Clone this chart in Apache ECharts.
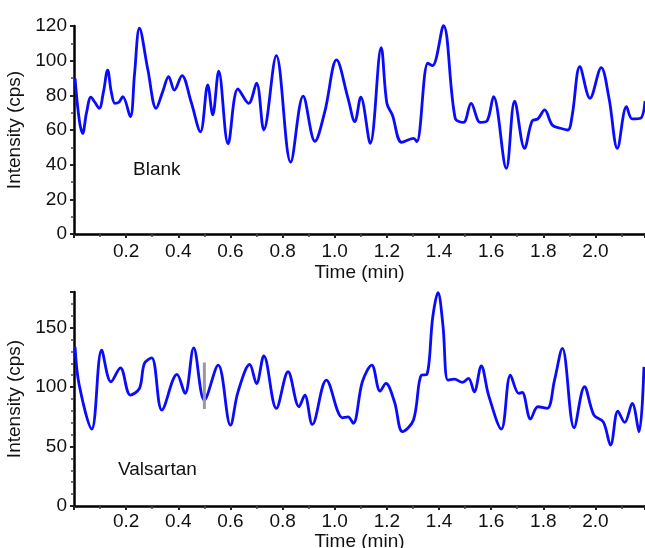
<!DOCTYPE html>
<html>
<head>
<meta charset="utf-8">
<script src="https://cdn.jsdelivr.net/npm/echarts@6/dist/echarts.min.js"></script>
<style>
html,body{margin:0;padding:0;background:#fff;}
#c{width:645px;height:548px;}
</style>
</head>
<body>
<div id="c"></div>
<script>
// Blank chromatogram
const blankTime = [0.004,0.02,0.033,0.048,0.065,0.08,0.097,0.113,0.129,0.143,0.157,0.172,0.187,0.216,0.232,0.251,0.283,0.315,0.34,0.363,0.385,0.414,0.449,0.485,0.513,0.532,0.555,0.591,0.629,0.67,0.70,0.728,0.776,0.831,0.879,0.924,0.962,1.007,1.051,1.077,1.1,1.136,1.178,1.2,1.221,1.257,1.302,1.315,1.357,1.375,1.417,1.462,1.494,1.523,1.558,1.584,1.609,1.658,1.69,1.728,1.757,1.779,1.805,1.834,1.866,1.894,1.911,1.94,1.979,2.022,2.052,2.084,2.119,2.141,2.173,2.19];
const blankIntensity = [89.8,66,58,70,79,76,72.5,82,94.6,82,75.4,76,79.2,67.7,92,118.7,95,72.5,82,90.8,83,91.4,76.3,59,86,68.7,94,52,83.7,75.4,87,60,102.9,41.5,79.5,53.5,70.6,100.4,78.3,64.8,79,52.3,107.5,75.4,68.7,52.9,55.2,53.3,98.5,97.1,120.2,66.8,64.4,75.4,64.4,65.2,79.2,37.9,76.7,49.4,65.2,66.4,71.6,62.9,61,60,68.7,96.5,78.3,96,78.3,49.4,73.5,66.4,66.8,76.7];

// Valsartan chromatogram
const valsartanTime = [0.004,0.02,0.068,0.106,0.142,0.178,0.216,0.251,0.27,0.298,0.337,0.395,0.426,0.459,0.5,0.553,0.6,0.629,0.674,0.70,0.728,0.776,0.821,0.863,0.885,0.914,0.968,1.03,1.051,1.071,1.106,1.142,1.174,1.196,1.229,1.26,1.302,1.332,1.353,1.376,1.396,1.415,1.434,1.459,1.49,1.513,1.535,1.562,1.59,1.639,1.674,1.706,1.719,1.751,1.779,1.815,1.843,1.873,1.918,1.958,1.994,2.03,2.058,2.086,2.112,2.141,2.167,2.186];
const valsartanIntensity = [133.9,101.7,64.7,131,104.5,116.2,93.3,98.9,119.9,124.6,80.7,110.7,94.7,133,89.1,118.5,68,96,119,103,126.3,82.1,112.9,83.5,93.3,68.6,105.9,74.2,75,69.5,104.5,118.5,96.6,103.1,87.7,62.5,72.3,110,110.6,159,179.5,152,105.9,106.7,103.9,107.3,96.1,117.9,93.3,64.7,110,94.7,95.5,73.1,83.5,82.1,105.9,132.5,65.8,100.3,76.5,70.8,51.3,79.8,70.3,86.3,62.4,117];

// gray marker in the Valsartan trace
const markerTime = [0.5, 0.5];
const markerIntensity = [81.5, 120.8];

const xTickLabels = ['0.2','0.4','0.6','0.8','1.0','1.2','1.4','1.6','1.8','2.0'];
const blankYTicks = [0,20,40,60,80,100,120];
const valsartanYTicks = [0,50,100,150];

const zip = (a,b) => a.map((v,i)=>[v,b[i]]);
const FONT = 'Liberation Sans, Arial, Helvetica, sans-serif';
const txt = {color:'#111', fontFamily:FONT, fontSize:19};

function xFmt(v){
  const s = v.toFixed(1);
  return (Math.abs(v - parseFloat(s)) < 1e-6 && xTickLabels.includes(s)) ? s : '';
}
function yFmt(list){ return v => list.includes(Math.round(v)) && Math.abs(v-Math.round(v))<1e-6 ? String(Math.round(v)) : ''; }

function xAxis(gi, gap, margin){
  return {
    type:'value', gridIndex:gi, min:0, max:2.19, interval:0.2,
    name:'Time (min)', nameLocation:'middle', nameGap:gap,
    nameTextStyle:Object.assign({}, txt, {verticalAlign:'top'}),
    axisLine:{show:true, lineStyle:{color:'#000', width:2.5}},
    axisTick:{show:true, inside:false, length:4, lineStyle:{color:'#222', width:2}},
    minorTick:{show:true, splitNumber:2, length:3, lineStyle:{color:'#444', width:1.5}},
    axisLabel:Object.assign({}, txt, {margin:margin, formatter:xFmt, showMinLabel:true, showMaxLabel:true}),
    splitLine:{show:false}
  };
}
function yAxis(gi, max, interval, minorSplit, ticks){
  return {
    type:'value', gridIndex:gi, min:0, max:max, interval:interval,
    name:'Intensity (cps)', nameLocation:'middle', nameGap:43, nameRotate:90,
    nameTextStyle:txt,
    axisLine:{show:true, lineStyle:{color:'#000', width:2.5}},
    axisTick:{show:true, length:4, lineStyle:{color:'#222', width:2}},
    minorTick:{show:true, splitNumber:minorSplit, length:3, lineStyle:{color:'#444', width:1.5}},
    axisLabel:Object.assign({}, txt, {margin:7, formatter:yFmt(ticks)}),
    splitLine:{show:false}
  };
}

const chart = echarts.init(document.getElementById('c'), null, {renderer:'canvas'});
chart.setOption({
  backgroundColor:'#ffffff',
  animation:false,
  grid:[
    {left:74, top:26, width:571, height:208, containLabel:false, outerBoundsMode:'none'},
    {left:74, top:292, width:571, height:214, containLabel:false, outerBoundsMode:'none'}
  ],
  xAxis:[xAxis(0, 29, 8), xAxis(1, 25, 6)],
  yAxis:[yAxis(0, 120, 20, 2, blankYTicks), yAxis(1, 180, 50, 5, valsartanYTicks)],
  graphic:[
    {type:'text', left:133, top:160, style:{text:'Blank', fill:'#111', font:'19px '+FONT}},
    {type:'text', left:118, top:460, style:{text:'Valsartan', fill:'#111', font:'19px '+FONT}}
  ],
  series:[
    {type:'line', xAxisIndex:0, yAxisIndex:0, data:zip(blankTime, blankIntensity), smooth:0.35, showSymbol:false, clip:false,
     lineStyle:{color:'#0a0aff', width:2.8}},
    {type:'line', xAxisIndex:1, yAxisIndex:1, data:zip(valsartanTime, valsartanIntensity), smooth:0.35, showSymbol:false, clip:false,
     lineStyle:{color:'#0a0aff', width:2.8}},
    {type:'line', xAxisIndex:1, yAxisIndex:1, data:zip(markerTime, markerIntensity), showSymbol:false, z:5,
     lineStyle:{color:'#9a9a9a', width:3}}
  ]
});
</script>
</body>
</html>
